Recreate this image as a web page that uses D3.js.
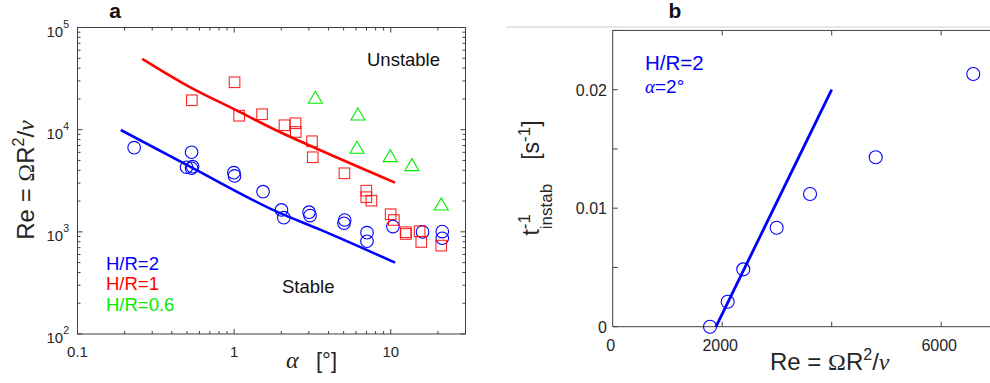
<!DOCTYPE html>
<html><head><meta charset="utf-8">
<script src="https://cdnjs.cloudflare.com/ajax/libs/d3/7.8.5/d3.min.js"></script>
<style>
body{margin:0;background:#fff;}
svg{display:block;}
text{font-family:"Liberation Sans",Arial,sans-serif;}
</style></head><body>
<svg id="chart" width="990" height="383"></svg>
<script>
// ---------- Panel a data ----------
const alphaH2 = [0.230,0.535,0.497,0.535,0.543,0.996,1.006,1.53,2.005,2.075,3.008,3.052,5.08,5.03,7.05,7.05,10.32,15.96,21.32,21.32];
const reH2    = [6670,6010,4285,4190,4345,3795,3525,2470,1637,1377,1556,1442,1306,1213,982,809,1125,998,1005,865];
const alphaH1 = [0.537,1.006,1.076,1.508,2.096,2.463,2.474,3.143,3.176,5.06,6.98,6.98,7.52,9.98,10.47,12.44,12.5,15.28,15.66,21.0];
const reH1    = [19400,29100,13700,14150,11040,11560,9490,7700,5370,3740,2530,2183,2019,1486,1306,991,953,1014,796,733];
const alphaH06 = [3.30,6.17,6.08,9.93,13.64,21.0];
const reH06    = [20300,13940,6580,5446,4446,1833];
const alphaFitH2 = [0.189,0.523,1.87,3.54,10.65];
const reFitH2    = [9930,4345,1578,1051,500];
const alphaFitH1 = [0.259,0.522,1.036,1.956,3.19,10.65];
const reFitH1    = [49400,26100,15450,9490,6760,3029];
const xTicksA = [0.1,1,10];
const xTickLabelsA = ["0.1","1","10"];
const yTicksA = [1e2,1e3,1e4,1e5];
const yTickExpA = ["2","3","4","5"];
const legendA = ["H/R=2","H/R=1","H/R=0.6"];

// ---------- Panel b data ----------
const reB   = [1777,2100,2385,2995,3604,4804,6586];
const tInvB = [0,0.00211,0.00484,0.00835,0.01120,0.01430,0.02132];
const reFitB = [1887,4000];
const tFitB  = [0,0.02];
const yTicksB = [0,0.005,0.01,0.015,0.02,0.025];
const yTickLabelsB = {"0":"0","0.01":"0.01","0.02":"0.02"};
const xTicksB = [2000,4000,6000];
const xTickLabelsB = [[0,"0"],[2000,"2000"],[6000,"6000"]];

const BLUE="#0000ff", RED="#ff0000", GREEN="#00ee00", AX="#404040", TXT="#262626";
const svg = d3.select("#chart");

// ================= Panel a =================
const xA = d3.scaleLog().domain([0.1,30]).range([77.5,465.5]);
const yA = d3.scaleLog().domain([100,1e5]).range([334,27.5]);
const gA = svg.append("g");
gA.append("rect").attr("x",xA(0.1)).attr("y",yA(1e5)).attr("width",xA(30)-xA(0.1)).attr("height",yA(100)-yA(1e5))
  .attr("fill","none").attr("stroke",AX).attr("stroke-width",1);
const xMinorA=[]; [0.1,1,10].forEach(d=>{for(let k=2;k<=9;k++){const v=k*d; if(v<=30) xMinorA.push(v);}});
const tick=(g,x1,y1,x2,y2)=>g.append("line").attr("x1",x1).attr("y1",y1).attr("x2",x2).attr("y2",y2).attr("stroke",AX).attr("stroke-width",1);
xTicksA.forEach(v=>{tick(gA,xA(v),yA(100),xA(v),yA(100)-5); tick(gA,xA(v),yA(1e5),xA(v),yA(1e5)+5);});
xMinorA.forEach(v=>{tick(gA,xA(v),yA(100),xA(v),yA(100)-3); tick(gA,xA(v),yA(1e5),xA(v),yA(1e5)+3);});
const yMinorA=[]; [100,1000,10000].forEach(d=>{for(let k=2;k<=9;k++) yMinorA.push(k*d);});
yTicksA.forEach(v=>{tick(gA,xA(0.1),yA(v),xA(0.1)+5,yA(v)); tick(gA,xA(30),yA(v),xA(30)-5,yA(v));});
yMinorA.forEach(v=>{tick(gA,xA(0.1),yA(v),xA(0.1)+3,yA(v)); tick(gA,xA(30),yA(v),xA(30)-3,yA(v));});
xTicksA.forEach((v,i)=>gA.append("text").attr("x",xA(v)).attr("y",357).attr("text-anchor","middle")
  .attr("font-size",15).attr("fill",TXT).text(xTickLabelsA[i]));
yTicksA.forEach((v,i)=>{
  const t=gA.append("text").attr("x",69).attr("y",yA(v)+9).attr("text-anchor","end").attr("fill",TXT);
  t.append("tspan").attr("font-size",15).text("10");
  t.append("tspan").attr("font-size",10.5).attr("dy",-9).text(yTickExpA[i]);
});
const lineA = d3.line().x(d=>xA(d[0])).y(d=>yA(d[1])).curve(d3.curveMonotoneX);
gA.append("path").attr("d",lineA(d3.zip(alphaFitH1,reFitH1))).attr("fill","none").attr("stroke",RED).attr("stroke-width",2.6);
gA.append("path").attr("d",lineA(d3.zip(alphaFitH2,reFitH2))).attr("fill","none").attr("stroke",BLUE).attr("stroke-width",2.6);
d3.zip(alphaH2,reH2).forEach(d=>gA.append("circle").attr("cx",xA(d[0])).attr("cy",yA(d[1])).attr("r",6.3)
  .attr("fill","none").attr("stroke",BLUE).attr("stroke-width",1.1));
d3.zip(alphaH1,reH1).forEach(d=>gA.append("rect").attr("x",xA(d[0])-5.3).attr("y",yA(d[1])-5.3).attr("width",10.6).attr("height",10.6)
  .attr("fill","none").attr("stroke",RED).attr("stroke-width",1.1).attr("stroke-opacity",0.85));
d3.zip(alphaH06,reH06).forEach(d=>{const cx=xA(d[0]), cy=yA(d[1]);
  gA.append("path").attr("d",`M${cx},${cy-7}L${cx+7},${cy+5}L${cx-7},${cy+5}Z`).attr("fill","none").attr("stroke",GREEN).attr("stroke-width",1.1);});
gA.append("text").attr("x",367).attr("y",66).attr("font-size",18.5).attr("fill","#111").text("Unstable");
gA.append("text").attr("x",282).attr("y",292.5).attr("font-size",18.5).attr("fill","#111").text("Stable");
[BLUE,RED,GREEN].forEach((c,i)=>gA.append("text").attr("x",106).attr("y",270+i*20.4).attr("font-size",18.5).attr("fill",c).text(legendA[i]));
const xlA=gA.append("text").attr("y",368).attr("fill",TXT);
xlA.append("tspan").attr("x",286).attr("font-family","Liberation Serif").attr("font-style","italic").attr("font-size",24).text("α");
xlA.append("tspan").attr("x",316).attr("font-size",22).text("[°]");
const ylA=gA.append("text").attr("transform","translate(34,180) rotate(-90)").attr("text-anchor","middle").attr("fill",TXT).attr("font-size",24);
ylA.append("tspan").text("Re = ");
ylA.append("tspan").attr("font-family","Liberation Serif").text("Ω");
ylA.append("tspan").text("R");
ylA.append("tspan").attr("font-size",16).attr("dy",-10).text("2");
ylA.append("tspan").attr("dy",10).text("/");
ylA.append("tspan").attr("font-family","Liberation Serif").attr("font-style","italic").text("ν");
svg.append("text").attr("x",115).attr("y",18).attr("text-anchor","middle").attr("font-family","Liberation Serif")
  .attr("font-weight","bold").attr("font-size",21).attr("fill","#111").text("a");

// ================= Panel b =================
const xB = d3.scaleLinear().domain([0,7000]).range([612.7,995.95]);
const yB = d3.scaleLinear().domain([0,0.025]).range([326.7,30.45]);
const gB = svg.append("g");
gB.append("line").attr("x1",506).attr("x2",990).attr("y1",27).attr("y2",27).attr("stroke","#dedede").attr("stroke-width",1.5);
tick(gB,xB(0),yB(0.025),xB(0),yB(0));
tick(gB,xB(0),yB(0),990,yB(0));
tick(gB,xB(0),yB(0.025),990,yB(0.025));
yTicksB.forEach(v=>tick(gB,xB(0),yB(v),xB(0)+5,yB(v)));
xTicksB.forEach(v=>{tick(gB,xB(v),yB(0),xB(v),yB(0)-5); tick(gB,xB(v),yB(0.025),xB(v),yB(0.025)+5);});
yTicksB.forEach(v=>{const l=yTickLabelsB[String(v)]; if(l!==undefined)
  gB.append("text").attr("x",607).attr("y",yB(v)+6).attr("text-anchor","end").attr("font-size",16).attr("fill",TXT).text(l);});
xTickLabelsB.forEach(d=>gB.append("text").attr("x",xB(d[0])-2).attr("y",351).attr("text-anchor","middle").attr("font-size",16).attr("fill",TXT).text(d[1]));
const lineB = d3.line().x(d=>xB(d[0])).y(d=>yB(d[1]));
gB.append("path").attr("d",lineB(d3.zip(reFitB,tFitB))).attr("fill","none").attr("stroke",BLUE).attr("stroke-width",2.8);
d3.zip(reB,tInvB).forEach(d=>gB.append("circle").attr("cx",xB(d[0])).attr("cy",yB(d[1])).attr("r",6.5)
  .attr("fill","none").attr("stroke",BLUE).attr("stroke-width",1.1));
gB.append("text").attr("x",645).attr("y",70).attr("font-size",20.5).attr("fill",BLUE).text("H/R=2");
const al=gB.append("text").attr("x",645).attr("y",93).attr("font-size",19).attr("fill",BLUE);
al.append("tspan").attr("font-family","Liberation Serif").attr("font-style","italic").text("α");
al.append("tspan").text("=2°");
const xlB=gB.append("text").attr("x",770).attr("y",370).attr("font-size",24).attr("fill",TXT);
xlB.append("tspan").text("Re = ");
xlB.append("tspan").attr("font-family","Liberation Serif").text("Ω");
xlB.append("tspan").text("R");
xlB.append("tspan").attr("font-size",16).attr("dy",-10).text("2");
xlB.append("tspan").attr("dy",10).text("/");
xlB.append("tspan").attr("font-family","Liberation Serif").attr("font-style","italic").text("ν");
const ylB=gB.append("text").attr("transform","translate(539,178) rotate(-90)").attr("text-anchor","middle").attr("fill",TXT).attr("font-size",23);
ylB.append("tspan").text("t");
ylB.append("tspan").attr("font-size",17).attr("dy",-9).text("-1");
ylB.append("tspan").attr("font-size",17).attr("dx",-15.2).attr("dy",22).text("instab");
ylB.append("tspan").attr("dx",24).attr("dy",-13).text("[s");
ylB.append("tspan").attr("font-size",17).attr("dy",-9).text("-1");
ylB.append("tspan").attr("dy",9).text("]");
svg.append("text").attr("x",675).attr("y",18).attr("text-anchor","middle").attr("font-family","Liberation Serif")
  .attr("font-weight","bold").attr("font-size",21).attr("fill","#111").text("b");
</script></body></html>
